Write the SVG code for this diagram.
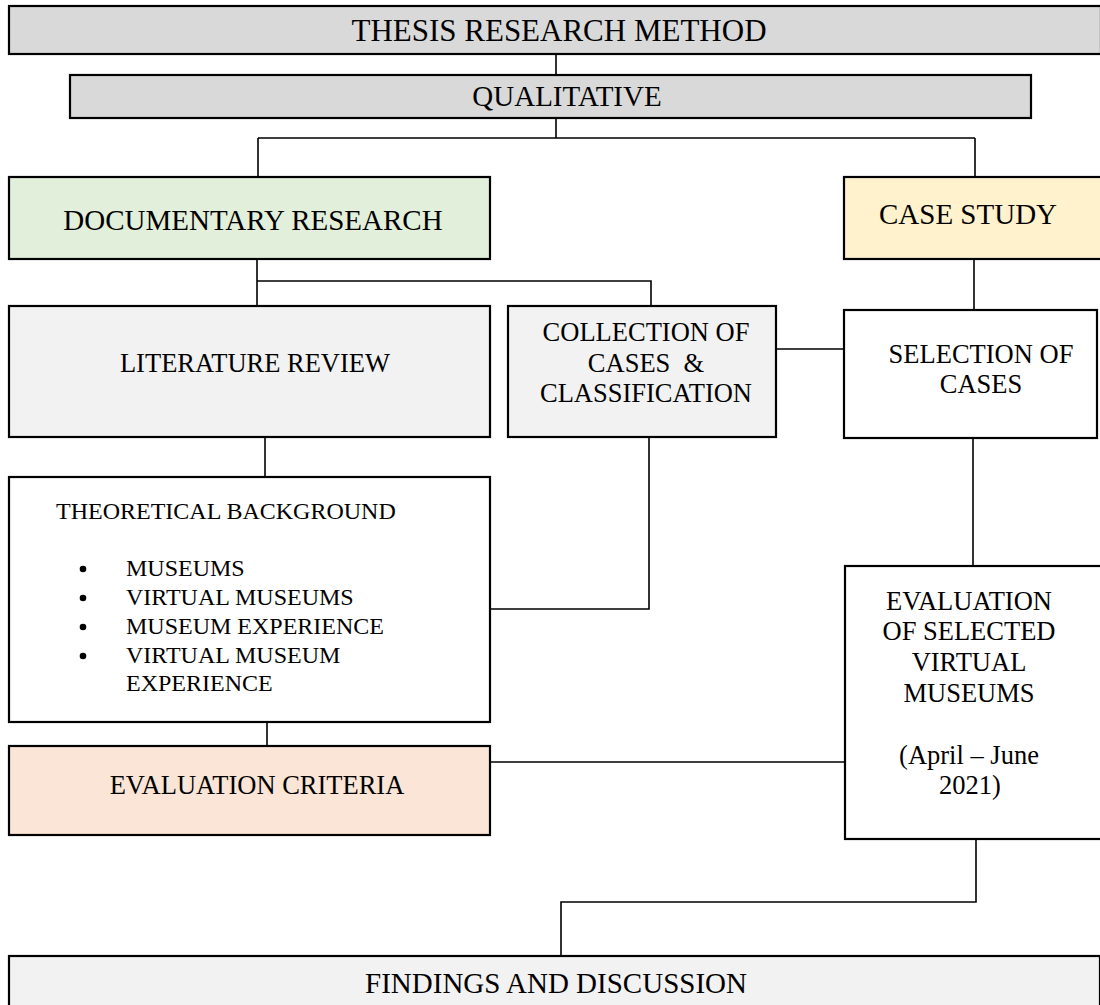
<svg xmlns="http://www.w3.org/2000/svg" width="1100" height="1005" viewBox="0 0 1100 1005">
<style>
.box{stroke:#000;stroke-width:2.2}
.con{stroke:#000;stroke-width:1.6;fill:none}
text{font-family:"Liberation Serif","Times New Roman",serif;fill:#000}
.c{text-anchor:middle}
.t31{font-size:31px}
.t29{font-size:29px}
.t26{font-size:26.5px}
.t24{font-size:24px}
</style>
<rect width="1100" height="1005" fill="#fff"/>
<g id="connectors">
<path class="con" d="M556 54V75"/>
<path class="con" d="M556 118V138M258 138H975M258 138V177M975 138V177"/>
<path class="con" d="M257 259V306M257 281H651V306"/>
<path class="con" d="M974 259V310"/>
<path class="con" d="M776 349H844"/>
<path class="con" d="M265 437V477"/>
<path class="con" d="M490 609H649V437"/>
<path class="con" d="M973 438V566"/>
<path class="con" d="M267 722V746"/>
<path class="con" d="M490 762H845"/>
<path class="con" d="M976 839V902H561V956"/>
</g>
<g id="thesis">
<rect class="box" x="9" y="6" width="1092" height="48" fill="#d9d9d9"/>
<text class="c t31" x="559" y="41">THESIS RESEARCH METHOD</text>
</g>
<g id="qualitative">
<rect class="box" x="70" y="75" width="961" height="43" fill="#d9d9d9"/>
<text class="c t29" x="567" y="106">QUALITATIVE</text>
</g>
<g id="documentary">
<rect class="box" x="9" y="177" width="481" height="82" fill="#e2efda"/>
<text class="c t29" x="253" y="230">DOCUMENTARY RESEARCH</text>
</g>
<g id="casestudy">
<rect class="box" x="844" y="177" width="258" height="82" fill="#fff2cc"/>
<text class="c t29" x="968" y="224">CASE STUDY</text>
</g>
<g id="literature">
<rect class="box" x="9" y="306" width="481" height="131" fill="#f2f2f2"/>
<text class="c t26" x="255" y="372">LITERATURE REVIEW</text>
</g>
<g id="collection">
<rect class="box" x="508" y="306" width="268" height="131" fill="#f2f2f2"/>
<text class="c t26" x="646" y="341">COLLECTION OF</text>
<text class="c t26" x="646" y="372" xml:space="preserve">CASES  &amp;</text>
<text class="c t26" x="646" y="402">CLASSIFICATION</text>
</g>
<g id="selection">
<rect class="box" x="844" y="310" width="253" height="128" fill="#fff"/>
<text class="c t26" x="981" y="363">SELECTION OF</text>
<text class="c t26" x="981" y="393">CASES</text>
</g>
<g id="theoretical">
<rect class="box" x="9" y="477" width="481" height="245" fill="#fff"/>
<text class="t24" x="56" y="519">THEORETICAL BACKGROUND</text>
<g fill="#000">
<circle cx="83" cy="569" r="3.3"/>
<circle cx="83" cy="598" r="3.3"/>
<circle cx="83" cy="627" r="3.3"/>
<circle cx="83" cy="656" r="3.3"/>
</g>
<text class="t24" x="126" y="576">MUSEUMS</text>
<text class="t24" x="126" y="605">VIRTUAL MUSEUMS</text>
<text class="t24" x="126" y="634">MUSEUM EXPERIENCE</text>
<text class="t24" x="126" y="663">VIRTUAL MUSEUM</text>
<text class="t24" x="126" y="691">EXPERIENCE</text>
</g>
<g id="evaluation">
<rect class="box" x="845" y="566" width="257" height="273" fill="#fff"/>
<text class="c t26" x="969" y="610">EVALUATION</text>
<text class="c t26" x="969" y="640">OF SELECTED</text>
<text class="c t26" x="969" y="671">VIRTUAL</text>
<text class="c t26" x="969" y="702">MUSEUMS</text>
<text class="c t26" x="969" y="764">(April – June</text>
<text class="c t26" x="970" y="794">2021)</text>
</g>
<g id="criteria">
<rect class="box" x="9" y="746" width="481" height="89" fill="#fbe5d6"/>
<text class="c t26" x="257" y="794">EVALUATION CRITERIA</text>
</g>
<g id="findings">
<rect class="box" x="9" y="956" width="1091" height="60" fill="#f2f2f2"/>
<text class="c t29" x="556" y="993">FINDINGS AND DISCUSSION</text>
</g>
</svg>
